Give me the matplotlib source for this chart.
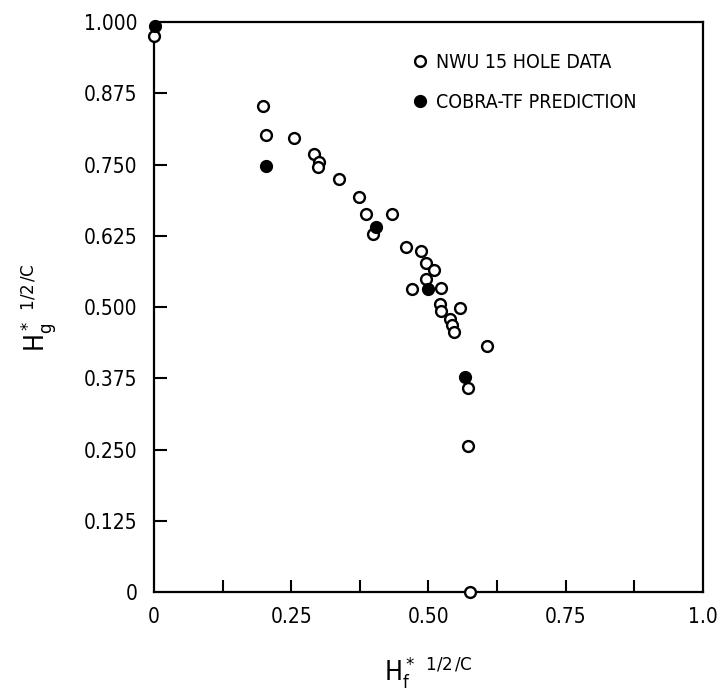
import matplotlib
matplotlib.use('Agg')
import matplotlib.pyplot as plt
import numpy as np

plt.rcParams['font.family'] = ['DejaVu Sans']
plt.rcParams['font.stretch'] = 'condensed'
plt.rcParams['mathtext.fontset'] = 'custom'

# NWU 15 hole data (open circles)
nwu_x = [0.000, 0.199, 0.204, 0.255, 0.291, 0.300, 0.299, 0.337, 0.373, 0.386,
         0.434, 0.399, 0.459, 0.486, 0.495, 0.510, 0.495, 0.470, 0.523, 0.521,
         0.523, 0.557, 0.539, 0.543, 0.546, 0.607, 0.572, 0.572, 0.576]
nwu_y = [0.975, 0.853, 0.802, 0.797, 0.768, 0.755, 0.746, 0.725, 0.693, 0.663,
         0.663, 0.628, 0.605, 0.598, 0.577, 0.565, 0.549, 0.532, 0.533, 0.505,
         0.493, 0.498, 0.479, 0.468, 0.456, 0.432, 0.358, 0.256, 0.000]

# COBRA-TF prediction (filled circles)
cobra_x = [0.002, 0.204, 0.404, 0.499, 0.567]
cobra_y = [0.993, 0.747, 0.640, 0.532, 0.377]

ytick_vals = np.arange(0, 1.001, 0.125)
ytick_labels = ['0', '0.125', '0.250', '0.375', '0.500', '0.625', '0.750', '0.875', '1.000']
xtick_vals = [0, 0.25, 0.5, 0.75, 1.0]
xtick_labels = ['0', '0.25', '0.50', '0.75', '1.0']

fig = plt.figure(figsize=(7.17, 6.95), dpi=100)
ax = fig.add_axes([0.215, 0.148, 0.765, 0.820])

ax.plot(nwu_x, nwu_y, 'o', mfc='white', mec='black', mew=1.7, ms=7.8,
        label='NWU 15 HOLE DATA', clip_on=False, zorder=3)
ax.plot(cobra_x, cobra_y, 'o', mfc='black', mec='black', mew=1.7, ms=7.8,
        label='COBRA-TF PREDICTION', clip_on=False, zorder=4)

ax.set_xlim(0, 1.0)
ax.set_ylim(0, 1.0)

ax.set_yticks(ytick_vals)
ax.set_yticklabels(ytick_labels)
ax.set_xticks(xtick_vals)
ax.set_xticklabels(xtick_labels)
ax.set_xticks(np.arange(0.125, 1.0, 0.25), minor=True)

ax.tick_params(axis='both', which='both', direction='in', width=1.5, length=9,
               labelsize=15)
ax.tick_params(axis='y', which='major', pad=12)
ax.tick_params(axis='x', which='major', pad=11)
# no tick marks at the ends of the axes
ax.xaxis.get_major_ticks()[0].tick1line.set_visible(False)
ax.xaxis.get_major_ticks()[-1].tick1line.set_visible(False)
ax.yaxis.get_major_ticks()[0].tick1line.set_visible(False)
ax.yaxis.get_major_ticks()[-1].tick1line.set_visible(False)

for s in ax.spines.values():
    s.set_linewidth(1.6)

ax.set_xlabel(r'$\mathregular{H^*_f\ ^{1/2\,/C}}$', fontsize=19)
ax.set_ylabel(r'$\mathregular{H^*_g\ ^{1/2\,/C}}$', fontsize=19)
ax.xaxis.set_label_coords(0.5, -0.108)
ax.yaxis.set_label_coords(-0.175, 0.50)

ax.legend(loc='upper left', bbox_to_anchor=(0.46, 0.96), frameon=False,
          handlelength=0.6, handletextpad=0.5, labelspacing=1.1, fontsize=14,
          borderaxespad=0)

fig.savefig('out.png', dpi=100)
